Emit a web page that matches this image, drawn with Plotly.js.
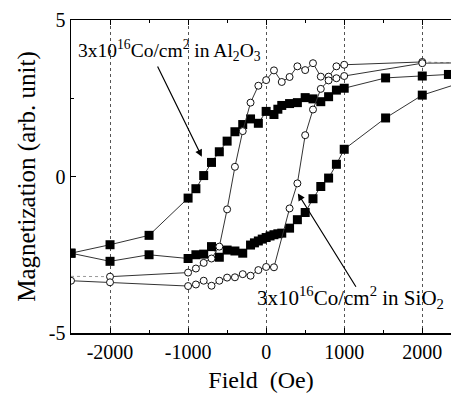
<!DOCTYPE html>
<html>
<head>
<meta charset="utf-8">
<script src="https://cdn.plot.ly/plotly-3.0.1.min.js"></script>
<style>html,body{margin:0;padding:0;background:#fff;}#chart{width:451px;height:393px;}</style>
</head>
<body>
<div id="chart"></div>
<script>
// Al2O3 (filled squares): descending branch then ascending branch
const alDownField = [2335, 2000, 1530, 1000, 900, 800, 700, 600, 500, 400, 300, 200, 150, 100, 0, -100, -200, -300, -400, -500, -600, -700, -800, -900, -1000, -1500, -2000, -2500];
const alDownMag   = [3.26, 3.21, 3.15, 2.82, 2.76, 2.55, 2.39, 2.48, 2.52, 2.36, 2.33, 2.27, 2.15, 1.98, 2.08, 1.70, 1.84, 1.66, 1.43, 1.13, 0.79, 0.45, 0.03, -0.39, -0.69, -1.88, -2.18, -2.45];
const alUpField = [-2500, -2000, -1500, -1000, -900, -800, -700, -600, -500, -400, -300, -200, -150, -100, -50, 0, 50, 100, 150, 200, 300, 400, 500, 600, 700, 800, 900, 1000, 1530, 2000, 2500];
const alUpMag   = [-2.45, -2.71, -2.50, -2.62, -2.50, -2.48, -2.24, -2.58, -2.35, -2.38, -2.45, -2.19, -2.12, -2.06, -2.00, -1.95, -1.90, -1.86, -1.83, -1.81, -1.65, -1.38, -1.15, -0.71, -0.32, -0.05, 0.39, 0.87, 1.87, 2.60, 3.00];

// SiO2 (open circles): descending branch then ascending branch
const siDownField = [2000, 1000, 900, 800, 700, 600, 500, 400, 300, 200, 100, 0, -100, -200, -300, -400, -500, -600, -700, -800, -900, -1000, -2000];
const siDownMag   = [3.66, 3.57, 3.52, 3.19, 3.19, 3.62, 3.40, 3.52, 3.18, 3.02, 3.39, 3.08, 2.90, 2.36, 1.45, 0.31, -1.05, -2.24, -2.62, -2.76, -2.94, -3.07, -3.20];
const siUpField = [-2500, -2000, -1000, -900, -800, -700, -600, -500, -400, -300, -200, -100, 0, 100, 300, 400, 500, 600, 700, 800, 900, 1000, 2000, 2500];
const siUpMag   = [-3.33, -3.38, -3.50, -3.45, -3.33, -3.49, -3.33, -3.23, -3.22, -3.12, -3.17, -2.99, -2.89, -2.90, -1.02, -0.22, 1.32, 2.14, 2.80, 3.07, 3.14, 3.21, 3.62, 3.63];
// faint dotted lead segments of the SiO2 descending branch
const siLeadInField = [2500, 2000];
const siLeadInMag   = [3.62, 3.66];
const siLeadOutField = [-2000, -2500];
const siLeadOutMag   = [-3.20, -3.19];

const xTicks = [-2000, -1000, 0, 1000, 2000];
const xTickLabels = ['-2000', '-1000', '0', '1000', '2000'];
const yTicks = [-5, 0, 5];
const yTickLabels = ['-5', '0', '5'];

const FONT = 'Liberation Serif, Times New Roman, serif';
const sqMarker = {symbol: 'square', size: 9, color: '#000'};
const ciMarker = {symbol: 'circle', size: 7, color: '#fff', line: {color: '#111', width: 1}};
const ln = {color: '#333', width: 1};

const traces = [
  {x: siLeadInField, y: siLeadInMag, mode: 'lines', line: {color: '#999', width: 1, dash: 'dot'}, hoverinfo: 'skip'},
  {x: siLeadOutField, y: siLeadOutMag, mode: 'lines', line: {color: '#999', width: 1, dash: 'dot'}, hoverinfo: 'skip'},
  {x: alDownField, y: alDownMag, mode: 'lines+markers', line: ln, marker: sqMarker},
  {x: alUpField, y: alUpMag, mode: 'lines+markers', line: ln, marker: sqMarker},
  {x: siDownField, y: siDownMag, mode: 'lines+markers', line: ln, marker: ciMarker},
  {x: siUpField, y: siUpMag, mode: 'lines+markers', line: ln, marker: ciMarker}
];

const layout = {
  width: 451, height: 393,
  margin: {l: 71, r: 0, t: 20, b: 60},
  paper_bgcolor: '#fff', plot_bgcolor: '#fff',
  showlegend: false,
  font: {family: FONT, color: '#000'},
  xaxis: {
    range: [-2500, 2368],
    tickmode: 'array', tickvals: xTicks, ticktext: xTickLabels,
    ticks: 'inside', ticklen: 5, tickwidth: 1, tickcolor: '#000',
    minor: {dtick: 500, tick0: 0, ticks: 'inside', ticklen: 3, tickcolor: '#000', showgrid: false},
    showline: true, linecolor: '#000', linewidth: 1.5, mirror: 'ticks',
    showgrid: true, gridcolor: '#555', griddash: 'dot', gridwidth: 1,
    zeroline: false,
    tickfont: {family: FONT, size: 20, color: '#000'},
    title: {text: 'Field\u00A0\u00A0(Oe)', font: {family: FONT, size: 24, color: '#000'}, standoff: 12}
  },
  yaxis: {
    range: [-5, 5],
    tickmode: 'array', tickvals: yTicks, ticktext: yTickLabels,
    ticks: 'inside', ticklen: 5, tickwidth: 1, tickcolor: '#000',
    minor: {dtick: 2.5, tick0: 0, ticks: 'inside', ticklen: 3, tickcolor: '#000', showgrid: false},
    showline: true, linecolor: '#000', linewidth: 1.5, mirror: false,
    showgrid: false, zeroline: false,
    tickfont: {family: FONT, size: 20, color: '#000'},
    title: {text: 'Magnetization (arb. unit)', font: {family: FONT, size: 25, color: '#000'}, standoff: 6}
  },
  annotations: [
    {x: -1236, y: 4.02, xref: 'x', yref: 'y', showarrow: false, xanchor: 'center', yanchor: 'middle',
     text: '3x10<sup>16</sup>Co/cm<sup>2</sup> in Al<sub>2</sub>O<sub>3</sub>', font: {family: FONT, size: 19.5, color: '#000'}},
    {x: 1076, y: -3.88, xref: 'x', yref: 'y', showarrow: false, xanchor: 'center', yanchor: 'middle',
     text: '3x10<sup>16</sup>Co/cm<sup>2</sup> in SiO<sub>2</sub>', font: {family: FONT, size: 21, color: '#000'}},
    {x: -824, y: 0.63, ax: -1400, ay: 3.56, xref: 'x', yref: 'y', axref: 'x', ayref: 'y', text: '',
     showarrow: true, arrowhead: 2, arrowsize: 1.2, arrowwidth: 1.2, arrowcolor: '#000'},
    {x: 406, y: -0.54, ax: 1162, ay: -3.57, xref: 'x', yref: 'y', axref: 'x', ayref: 'y', text: '',
     showarrow: true, arrowhead: 2, arrowsize: 1.2, arrowwidth: 1.2, arrowcolor: '#000'}
  ]
};

Plotly.newPlot('chart', traces, layout, {staticPlot: true, displayModeBar: false});
</script>
</body>
</html>
